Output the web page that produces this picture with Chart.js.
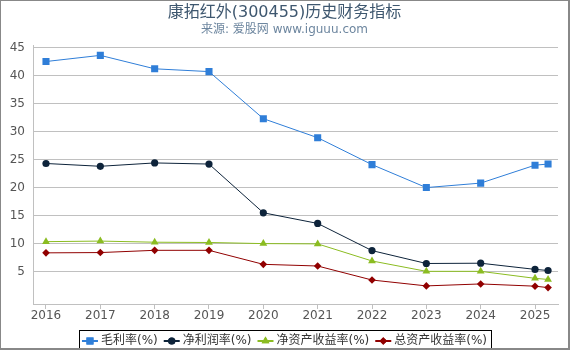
<!DOCTYPE html>
<html>
<head>
<meta charset="utf-8">
<script src="https://cdn.jsdelivr.net/npm/chart.js@4.4.1/dist/chart.umd.min.js"></script>
<style>
  body { margin: 0; background: #fff; }
  #frame {
    width: 567px; height: 347px; overflow: hidden; background: #fff;
    border-style: solid; border-color: #888;
    border-width: 1px 2px 2px 1px;
  }
  canvas { display: block; }
</style>
</head>
<body>
<div id="frame"><canvas id="finChart" width="567" height="356"></canvas></div>
<script>
// ======================= DATA =======================
const periods = [2016, 2017, 2018, 2019, 2020, 2021, 2022, 2023, 2024, 2025, 2025.24];
const yearTicks = [2016, 2017, 2018, 2019, 2020, 2021, 2022, 2023, 2024, 2025];
const valueTicks = [5, 10, 15, 20, 25, 30, 35, 40, 45];

const grossMargin = [42.5, 43.6, 41.2, 40.7, 32.3, 28.9, 24.1, 20.0, 20.8, 24.0, 24.2];
const netMargin = [24.3, 23.8, 24.4, 24.2, 15.5, 13.6, 8.75, 6.45, 6.5, 5.4, 5.2];
const roe = [10.35, 10.45, 10.25, 10.2, 10.0, 9.95, 6.9, 5.05, 5.05, 3.8, 3.6];
const roa = [8.35, 8.4, 8.8, 8.8, 6.3, 6.0, 3.5, 2.45, 2.8, 2.4, 2.15];

// ======================= HELPERS =======================
const toPoints = values => values.map((v, i) => ({ x: periods[i], y: v }));

function makeSeries(label, values, color, style, radius) {
  return {
    label: label,
    data: toPoints(values),
    borderColor: color,
    backgroundColor: color,
    borderWidth: 1,
    pointStyle: style,
    pointRadius: radius,
    pointBorderWidth: 0,
    pointBackgroundColor: color,
    tension: 0
  };
}

// draw line + marker legend symbols and the box around the legend
const legendSymbols = {
  id: 'legendSymbols',
  afterDraw(chart) {
    const boxes = chart.legend.legendHitBoxes;
    if (!boxes || !boxes.length) return;
    const ctx = chart.ctx;
    ctx.save();
    boxes.forEach((hb, i) => {
      const ds = chart.data.datasets[i];
      const cy = hb.top + hb.height / 2;
      ctx.strokeStyle = ds.borderColor;
      ctx.lineWidth = 2;
      ctx.beginPath();
      ctx.moveTo(hb.left, cy);
      ctx.lineTo(hb.left + 16, cy);
      ctx.stroke();
      ctx.fillStyle = ds.borderColor;
      Chart.helpers.drawPoint(ctx, {
        pointStyle: ds.pointStyle, radius: ds.pointRadius, rotation: 0, borderWidth: 0
      }, hb.left + 8, cy);
      ctx.fill();
    });
    const first = boxes[0], last = boxes[boxes.length - 1];
    const top = first.top + first.height / 2 - 11;
    ctx.strokeStyle = '#000';
    ctx.lineWidth = 1;
    ctx.strokeRect(Math.round(first.left - 3) + 0.5, Math.round(top) + 0.5,
      Math.round(last.left + last.width + 4 - (first.left - 3)), 30);
    ctx.restore();
  }
};

// ======================= CHART =======================
Chart.defaults.font.family = '"DejaVu Sans", "Noto Sans CJK SC", sans-serif';

const ctx = document.getElementById('finChart').getContext('2d');

new Chart(ctx, {
  type: 'line',
  data: {
    datasets: [
      makeSeries('毛利率(%)', grossMargin, '#2f7ed8', 'rect', 5),
      makeSeries('净利润率(%)', netMargin, '#0d233a', 'circle', 3.6),
      makeSeries('净资产收益率(%)', roe, '#8bbc21', 'triangle', 4.5),
      makeSeries('总资产收益率(%)', roa, '#910000', 'rectRot', 3.8)
    ]
  },
  options: {
    responsive: false,
    animation: false,
    devicePixelRatio: 1,
    layout: { padding: 0 },
    plugins: {
      title: {
        display: true,
        text: '康拓红外(300455)历史财务指标',
        color: '#3e576f',
        font: { size: 16, weight: 'normal' },
        padding: { top: 2, bottom: 0 }
      },
      subtitle: {
        display: true,
        text: '来源: 爱股网 www.iguuu.com',
        color: '#6d869f',
        font: { size: 12 },
        padding: { top: 0.5, bottom: 8.4 }
      },
      legend: {
        position: 'bottom',
        labels: {
          color: '#333',
          font: { size: 12 },
          boxWidth: 13,
          boxHeight: 12,
          padding: 6,
          generateLabels(chart) {
            const items = Chart.defaults.plugins.legend.labels.generateLabels(chart);
            items.forEach(it => {
              it.fillStyle = 'rgba(0,0,0,0)';
              it.strokeStyle = 'rgba(0,0,0,0)';
              it.lineWidth = 0;
            });
            return items;
          }
        }
      },
      tooltip: { enabled: false }
    },
    scales: {
      x: {
        type: 'linear',
        min: 2015.761,
        max: 2025.423,
        afterBuildTicks: scale => { scale.ticks = yearTicks.map(v => ({ value: v })); },
        afterFit: scale => { scale.height += 5.6; },
        ticks: {
          color: '#555',
          font: { size: 12 },
          padding: 0,
          maxRotation: 0,
          autoSkip: false,
          callback: v => String(v)
        },
        grid: { drawOnChartArea: false, drawTicks: true, tickLength: 5, color: '#c0c0c0' },
        border: { color: '#c0c0c0' }
      },
      y: {
        min: -0.78,
        max: 45.36,
        afterBuildTicks: scale => { scale.ticks = valueTicks.map(v => ({ value: v })); },
        afterFit: scale => { scale.width = 32; },
        ticks: { color: '#555', font: { size: 12 }, padding: 8 },
        grid: { color: '#c0c0c0', drawTicks: false },
        border: { color: '#c0c0c0' }
      },
      // empty right-hand gutter so the legend stays centred on the full width
      yRight: {
        position: 'right',
        display: true,
        afterFit: scale => { scale.width = 10; },
        ticks: { display: false },
        grid: { display: false, drawTicks: false },
        border: { display: false }
      }
    }
  },
  plugins: [legendSymbols]
});
</script>
</body>
</html>
